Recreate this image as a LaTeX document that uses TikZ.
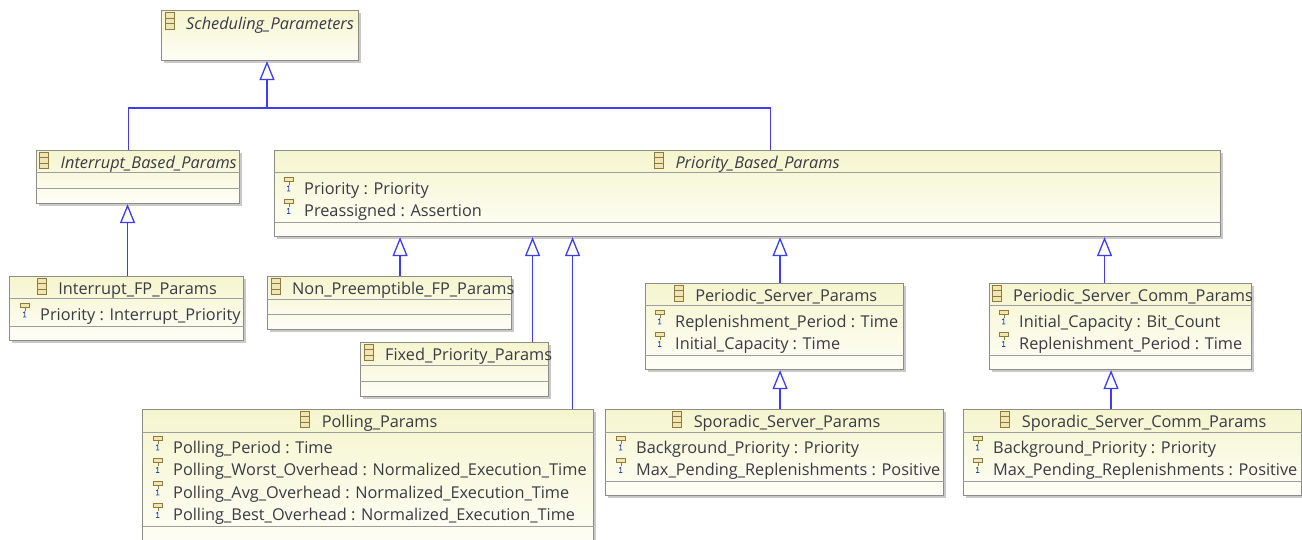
\documentclass[tikz,border=0pt]{standalone}
\usepackage{fontspec}
\setmainfont{Open Sans}
\usetikzlibrary{arrows.meta,shadows}
\definecolor{clsline}{HTML}{8C8C8C}
\definecolor{clstop}{HTML}{F5F5CE}
\definecolor{clsbot}{HTML}{FEFEF7}
\definecolor{clstext}{HTML}{3A3A44}
\definecolor{iconbrown}{HTML}{8E7A3C}
\definecolor{iconfill}{HTML}{F0E6B4}
\definecolor{genblue}{HTML}{3C3CFA}
\definecolor{oneblue}{HTML}{2A4AA0}
\tikzset{
  cls/.style={draw=clsline, line width=1.1pt, top color=clstop, bottom color=clsbot,
    anchor=north west, inner sep=0pt,
    drop shadow={shadow xshift=2pt, shadow yshift=-2pt, opacity=.35, fill=black!60}},
  sep/.style={draw=clsline!85, line width=.9pt},
  ttl/.style={inner sep=0pt, text=clstext, font=\fontsize{16.3}{19}\selectfont},
  ttlit/.style={ttl, font=\fontsize{16.3}{19}\selectfont\itshape},
  attr/.style={ttl, anchor=base west},
  gen/.style={draw=genblue, line width=1.3pt, -{Triangle[open, length=19pt, width=15pt]}},
  link/.style={draw=genblue, line width=1.3pt},
  clsicon/.pic={
    \draw[iconbrown, fill=iconfill, line width=1pt] (-4.5,-16.5) rectangle (4.5,0);
    \draw[iconbrown, line width=.9pt] (-4.5,-11) -- (4.5,-11) (-4.5,-5.5) -- (4.5,-5.5);
  },
  attricon/.pic={
    \draw[iconbrown, fill=iconfill, line width=.9pt] (-4.5,-17) rectangle (4.5,-13);
    \draw[iconbrown, line width=.9pt] (0,-13) -- (0,-9.5);
    \draw[oneblue, line width=.8pt] (-1.8,-7.2) -- (-0.2,-8.2) -- (-0.2,-3) (-1.9,-3) -- (1.4,-3);
  }
}
\begin{document}
\begin{tikzpicture}[x=1pt,y=-1pt]
\clip (0,0) rectangle (1302,539);
\fill[white] (0,0) rectangle (1302,539);

% Scheduling_Parameters
\node[cls, minimum width=197pt, minimum height=50pt] (sched) at (161,10) {};
\node[ttlit, anchor=base west] (sched-t) at ([xshift=25pt,yshift=-19pt]sched.north west) {Scheduling\_Parameters};
\pic at ([xshift=-16.5pt]sched-t.base west) {clsicon};

% Interrupt_Based_Params
\node[cls, minimum width=203pt, minimum height=53pt] (ibp) at (36,150) {};
\draw[sep] ([yshift=-22.5pt]ibp.north west) -- ([yshift=-22.5pt]ibp.north east);
\draw[sep] ([yshift=-38pt]ibp.north west) -- ([yshift=-38pt]ibp.north east);
\node[ttlit, anchor=base west] (ibp-t) at ([xshift=24.5pt,yshift=-18.5pt]ibp.north west) {Interrupt\_Based\_Params};
\pic at ([xshift=-16.5pt]ibp-t.base west) {clsicon};

% Priority_Based_Params
\node[cls, minimum width=946pt, minimum height=86pt] (pbp) at (274,150) {};
\draw[sep] ([yshift=-22.5pt]pbp.north west) -- ([yshift=-22.5pt]pbp.north east);
\draw[sep] ([yshift=-72pt]pbp.north west) -- ([yshift=-72pt]pbp.north east);
\node[ttlit, anchor=base] (pbp-t) at ([xshift=10pt,yshift=-18.5pt]pbp.north) {Priority\_Based\_Params};
\pic at ([xshift=-16.5pt]pbp-t.base west) {clsicon};
\node[attr] (pbp-1) at ([xshift=30pt,yshift=-44pt]pbp.north west) {Priority : Priority};
\node[attr] (pbp-2) at ([xshift=30pt,yshift=-66.5pt]pbp.north west) {Preassigned : Assertion};
\pic at ([xshift=-15pt]pbp-1.base west) {attricon};
\pic at ([xshift=-15pt]pbp-2.base west) {attricon};

% Interrupt_FP_Params
\node[cls, minimum width=234pt, minimum height=64pt] (ifp) at (9,276) {};
\draw[sep] ([yshift=-22.5pt]ifp.north west) -- ([yshift=-22.5pt]ifp.north east);
\draw[sep] ([yshift=-50pt]ifp.north west) -- ([yshift=-50pt]ifp.north east);
\node[ttl, anchor=base] (ifp-t) at ([xshift=11pt,yshift=-18.5pt]ifp.north) {Interrupt\_FP\_Params};
\pic at ([xshift=-16.5pt]ifp-t.base west) {clsicon};
\node[attr] (ifp-1) at ([xshift=31pt,yshift=-44pt]ifp.north west) {Priority : Interrupt\_Priority};
\pic at ([xshift=-15pt]ifp-1.base west) {attricon};

% Non_Preemptible_FP_Params
\node[cls, minimum width=244pt, minimum height=53pt] (npf) at (267,276) {};
\draw[sep] ([yshift=-23pt]npf.north west) -- ([yshift=-23pt]npf.north east);
\draw[sep] ([yshift=-38pt]npf.north west) -- ([yshift=-38pt]npf.north east);
\node[ttl, anchor=base west] (npf-t) at ([xshift=25pt,yshift=-18.5pt]npf.north west) {Non\_Preemptible\_FP\_Params};
\pic at ([xshift=-16.5pt]npf-t.base west) {clsicon};

% Fixed_Priority_Params
\node[cls, minimum width=188pt, minimum height=54pt] (fpp) at (360,342) {};
\draw[sep] ([yshift=-23.5pt]fpp.north west) -- ([yshift=-23.5pt]fpp.north east);
\draw[sep] ([yshift=-39pt]fpp.north west) -- ([yshift=-39pt]fpp.north east);
\node[ttl, anchor=base west] (fpp-t) at ([xshift=25pt,yshift=-18.5pt]fpp.north west) {Fixed\_Priority\_Params};
\pic at ([xshift=-16.5pt]fpp-t.base west) {clsicon};

% Polling_Params
\node[cls, minimum width=451pt, minimum height=140pt] (poll) at (142,409) {};
\draw[sep] ([yshift=-23pt]poll.north west) -- ([yshift=-23pt]poll.north east);
\draw[sep] ([yshift=-117pt]poll.north west) -- ([yshift=-117pt]poll.north east);
\node[ttl, anchor=base] (poll-t) at ([xshift=11.5pt,yshift=-18.5pt]poll.north) {Polling\_Params};
\pic at ([xshift=-16.5pt]poll-t.base west) {clsicon};
\node[attr] (poll-1) at ([xshift=31pt,yshift=-44pt]poll.north west) {Polling\_Period : Time};
\node[attr] (poll-2) at ([xshift=31pt,yshift=-66.5pt]poll.north west) {Polling\_Worst\_Overhead : Normalized\_Execution\_Time};
\node[attr] (poll-3) at ([xshift=31pt,yshift=-89pt]poll.north west) {Polling\_Avg\_Overhead : Normalized\_Execution\_Time};
\node[attr] (poll-4) at ([xshift=31pt,yshift=-111.5pt]poll.north west) {Polling\_Best\_Overhead : Normalized\_Execution\_Time};
\pic at ([xshift=-15pt]poll-1.base west) {attricon};
\pic at ([xshift=-15pt]poll-2.base west) {attricon};
\pic at ([xshift=-15pt]poll-3.base west) {attricon};
\pic at ([xshift=-15pt]poll-4.base west) {attricon};

% Periodic_Server_Params
\node[cls, minimum width=258pt, minimum height=86pt] (pss) at (645,283) {};
\draw[sep] ([yshift=-22pt]pss.north west) -- ([yshift=-22pt]pss.north east);
\draw[sep] ([yshift=-72pt]pss.north west) -- ([yshift=-72pt]pss.north east);
\node[ttl, anchor=base] (pss-t) at ([xshift=11.7pt,yshift=-18.5pt]pss.north) {Periodic\_Server\_Params};
\pic at ([xshift=-16.5pt]pss-t.base west) {clsicon};
\node[attr] (pss-1) at ([xshift=30pt,yshift=-44pt]pss.north west) {Replenishment\_Period : Time};
\node[attr] (pss-2) at ([xshift=30pt,yshift=-66.5pt]pss.north west) {Initial\_Capacity : Time};
\pic at ([xshift=-15pt]pss-1.base west) {attricon};
\pic at ([xshift=-15pt]pss-2.base west) {attricon};

% Sporadic_Server_Params
\node[cls, minimum width=338pt, minimum height=86pt] (sss) at (605,409) {};
\draw[sep] ([yshift=-23pt]sss.north west) -- ([yshift=-23pt]sss.north east);
\draw[sep] ([yshift=-72pt]sss.north west) -- ([yshift=-72pt]sss.north east);
\node[ttl, anchor=base] (sss-t) at ([xshift=12.5pt,yshift=-18.5pt]sss.north) {Sporadic\_Server\_Params};
\pic at ([xshift=-16.5pt]sss-t.base west) {clsicon};
\node[attr] (sss-1) at ([xshift=31pt,yshift=-44pt]sss.north west) {Background\_Priority : Priority};
\node[attr] (sss-2) at ([xshift=31pt,yshift=-66.5pt]sss.north west) {Max\_Pending\_Replenishments : Positive};
\pic at ([xshift=-15pt]sss-1.base west) {attricon};
\pic at ([xshift=-15pt]sss-2.base west) {attricon};

% Periodic_Server_Comm_Params
\node[cls, minimum width=262pt, minimum height=86pt] (pscp) at (989,283) {};
\draw[sep] ([yshift=-22pt]pscp.north west) -- ([yshift=-22pt]pscp.north east);
\draw[sep] ([yshift=-72pt]pscp.north west) -- ([yshift=-72pt]pscp.north east);
\node[ttl, anchor=base west] (pscp-t) at ([xshift=24pt,yshift=-18.5pt]pscp.north west) {Periodic\_Server\_Comm\_Params};
\pic at ([xshift=-16.5pt]pscp-t.base west) {clsicon};
\node[attr] (pscp-1) at ([xshift=30pt,yshift=-44pt]pscp.north west) {Initial\_Capacity : Bit\_Count};
\node[attr] (pscp-2) at ([xshift=30pt,yshift=-66.5pt]pscp.north west) {Replenishment\_Period : Time};
\pic at ([xshift=-15pt]pscp-1.base west) {attricon};
\pic at ([xshift=-15pt]pscp-2.base west) {attricon};

% Sporadic_Server_Comm_Params
\node[cls, minimum width=338pt, minimum height=86pt] (sscp) at (963,409) {};
\draw[sep] ([yshift=-23pt]sscp.north west) -- ([yshift=-23pt]sscp.north east);
\draw[sep] ([yshift=-72pt]sscp.north west) -- ([yshift=-72pt]sscp.north east);
\node[ttl, anchor=base] (sscp-t) at ([xshift=11.6pt,yshift=-18.5pt]sscp.north) {Sporadic\_Server\_Comm\_Params};
\pic at ([xshift=-16.5pt]sscp-t.base west) {clsicon};
\node[attr] (sscp-1) at ([xshift=30pt,yshift=-44pt]sscp.north west) {Background\_Priority : Priority};
\node[attr] (sscp-2) at ([xshift=30pt,yshift=-66.5pt]sscp.north west) {Max\_Pending\_Replenishments : Positive};
\pic at ([xshift=-15pt]sscp-1.base west) {attricon};
\pic at ([xshift=-15pt]sscp-2.base west) {attricon};

% generalizations
\coordinate (jn) at (267,108);
\draw[gen] (jn) -- (jn |- sched.south);
\draw[link] ([xshift=-9.5pt]ibp.north) |- (jn);
\draw[link] ([xshift=23pt]pbp.north) |- (jn);
\draw[gen] ([xshift=1pt]ifp.north) coordinate (c1) -- (c1 |- ibp.south);
\draw[gen] ([xshift=10.5pt]npf.north) coordinate (c2) -- (c2 |- pbp.south);
\draw[gen] ([xshift=78pt]fpp.north) coordinate (c3) -- (c3 |- pbp.south);
\draw[gen] ([xshift=204.5pt]poll.north) coordinate (c4) -- (c4 |- pbp.south);
\draw[gen] ([xshift=5.5pt]pss.north) coordinate (c5) -- (c5 |- pbp.south);
\draw[gen] ([xshift=-16pt]pscp.north) coordinate (c6) -- (c6 |- pbp.south);
\draw[gen] ([xshift=5.5pt]sss.north) coordinate (c7) -- (c7 |- pss.south);
\draw[gen] ([xshift=-21.5pt]sscp.north) coordinate (c8) -- (c8 |- pscp.south);
\end{tikzpicture}
\end{document}
